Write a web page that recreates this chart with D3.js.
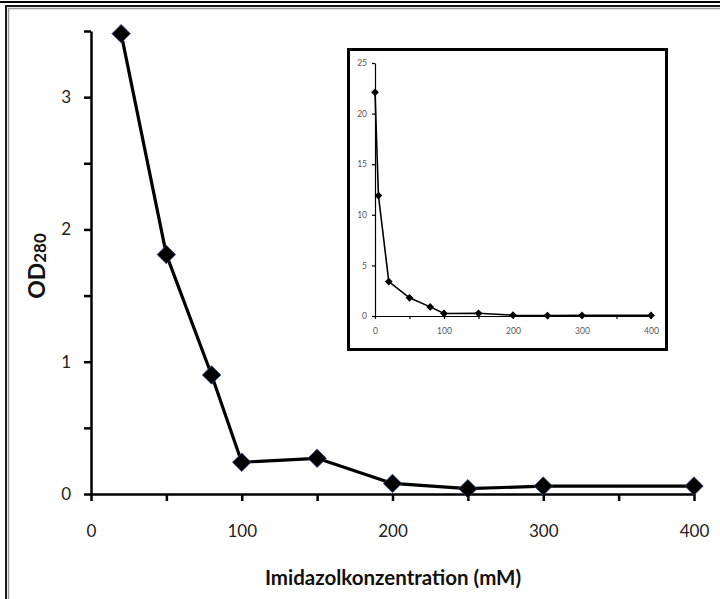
<!DOCTYPE html>
<html>
<head>
<meta charset="utf-8">
<script src="https://cdn.jsdelivr.net/npm/d3@7"></script>
<style>
  body { margin: 0; background: #fff; }
  svg { display: block; }
</style>
</head>
<body>
<script>
// Hauptdiagramm: Imidazolkonzentration (mM) gegen OD280
var conc = [20, 50, 80, 100, 150, 200, 250, 300, 400];
var od = [3.48, 1.81, 0.90, 0.24, 0.27, 0.08, 0.04, 0.06, 0.06];

// Einschub: alle Fraktionen inkl. 0 und 5 mM
var insetConc = [0, 5, 20, 50, 80, 100, 150, 200, 250, 300, 400];
var insetOd = [22.1, 11.9, 3.4, 1.8, 0.9, 0.25, 0.27, 0.08, 0.04, 0.06, 0.06];

var xTicks = [0, 50, 100, 150, 200, 250, 300, 350, 400];
var yTicks = [0, 0.5, 1, 1.5, 2, 2.5, 3, 3.5];
var insetYTicks = [0, 5, 10, 15, 20, 25];
var insetXTicks = [0, 50, 100, 150, 200, 250, 300, 350, 400];

var larg = 720, haut = 599;
var font = "Lato, 'Open Sans', sans-serif";

var svg = d3.select("body").append("svg")
  .attr("width", larg)
  .attr("height", haut);

svg.append("rect").attr("width", larg).attr("height", haut).attr("fill", "#fff");

// Rahmen oben / links
svg.append("line").attr("x1", 0).attr("x2", larg).attr("y1", 2).attr("y2", 2)
  .attr("stroke", "#000").attr("stroke-width", 2);
svg.append("rect").attr("x", 6).attr("y", 6).attr("width", 800).attr("height", 700)
  .attr("fill", "none").attr("stroke", "#1a1a1a").attr("stroke-width", 2);
svg.append("rect").attr("x", 8.5).attr("y", 8.5).attr("width", 800).attr("height", 700)
  .attr("fill", "none").attr("stroke", "#9a9a9a").attr("stroke-width", 1.5);

var x = d3.scaleLinear().domain([0, 400]).range([91, 694]);
var y = d3.scaleLinear().domain([0, 3.5]).range([494, 31]);

var xAxis = svg.append("g")
  .attr("transform", "translate(0," + y(0) + ")")
  .call(d3.axisBottom(x).tickValues(xTicks).tickSize(7).tickSizeOuter(0).tickPadding(24)
    .tickFormat(function(d) { return d % 100 === 0 ? d : ""; }));

var yAxis = svg.append("g")
  .attr("transform", "translate(" + x(0) + ",0)")
  .call(d3.axisLeft(y).tickValues(yTicks).tickSize(7).tickSizeOuter(0).tickPadding(13)
    .tickFormat(function(d) { return d % 1 === 0 ? d : ""; }));

[xAxis, yAxis].forEach(function(a) {
  a.selectAll("path, line").attr("stroke", "#000").attr("stroke-width", 2.5);
  a.selectAll("text").attr("font-family", font).attr("font-size", 17).attr("fill", "#222");
});

var line = d3.line()
  .x(function(d) { return x(d[0]); })
  .y(function(d) { return y(d[1]); });

var pts = d3.zip(conc, od);

svg.append("path").datum(pts)
  .attr("d", line)
  .attr("fill", "none").attr("stroke", "#000").attr("stroke-width", 3.2)
  .attr("stroke-linejoin", "round");

var bigDiamond = d3.symbol().type(d3.symbolSquare).size(170);
svg.selectAll(".pt").data(pts).enter().append("path")
  .attr("class", "pt")
  .attr("d", bigDiamond)
  .attr("transform", function(d) { return "translate(" + x(d[0]) + "," + y(d[1]) + ") rotate(45)"; })
  .attr("fill", "#000").attr("stroke", "#2c4a78").attr("stroke-width", 0.8);

// Achsentitel
svg.append("text")
  .attr("x", 393).attr("y", 585)
  .attr("text-anchor", "middle")
  .attr("font-family", font).attr("font-weight", "bold").attr("font-size", 20.5)
  .attr("fill", "#111")
  .text("Imidazolkonzentration (mM)");

var yl = svg.append("text")
  .attr("transform", "translate(45,266) rotate(-90)")
  .attr("text-anchor", "middle")
  .attr("font-family", font).attr("font-weight", "bold").attr("font-size", 23)
  .attr("fill", "#111");
yl.append("tspan").text("OD");
yl.append("tspan").attr("font-size", 17).attr("dy", 1).text("280");

// Einschub
var ins = svg.append("g");
ins.append("rect").attr("x", 348.5).attr("y", 49.5).attr("width", 318).attr("height", 300)
  .attr("fill", "#fff").attr("stroke", "#000").attr("stroke-width", 3);

var ix = d3.scaleLinear().domain([0, 400]).range([375, 651]);
var iy = d3.scaleLinear().domain([0, 25]).range([316, 63]);

var ixAxis = ins.append("g")
  .attr("transform", "translate(0," + iy(0) + ")")
  .call(d3.axisBottom(ix).tickValues(insetXTicks).tickSize(3).tickSizeOuter(0).tickPadding(9)
    .tickFormat(function(d) { return d % 100 === 0 ? d : ""; }));
var iyAxis = ins.append("g")
  .attr("transform", "translate(" + ix(0) + ",0)")
  .call(d3.axisLeft(iy).tickValues(insetYTicks).tickSize(3).tickSizeOuter(0).tickPadding(5));

[ixAxis, iyAxis].forEach(function(a) {
  a.selectAll("path, line").attr("stroke", "#000").attr("stroke-width", 1.2);
  a.selectAll("text").attr("font-family", font).attr("font-size", 8.5).attr("fill", "#555");
});

var iline = d3.line()
  .x(function(d) { return ix(d[0]); })
  .y(function(d) { return iy(d[1]); });
var ipts = d3.zip(insetConc, insetOd);

ins.append("path").datum(ipts)
  .attr("d", iline)
  .attr("fill", "none").attr("stroke", "#000").attr("stroke-width", 1.6);

var smallDiamond = d3.symbol().type(d3.symbolSquare).size(30);
ins.selectAll(".ipt").data(ipts).enter().append("path")
  .attr("class", "ipt")
  .attr("d", smallDiamond)
  .attr("transform", function(d) { return "translate(" + ix(d[0]) + "," + iy(d[1]) + ") rotate(45)"; })
  .attr("fill", "#000");
</script>
</body>
</html>
